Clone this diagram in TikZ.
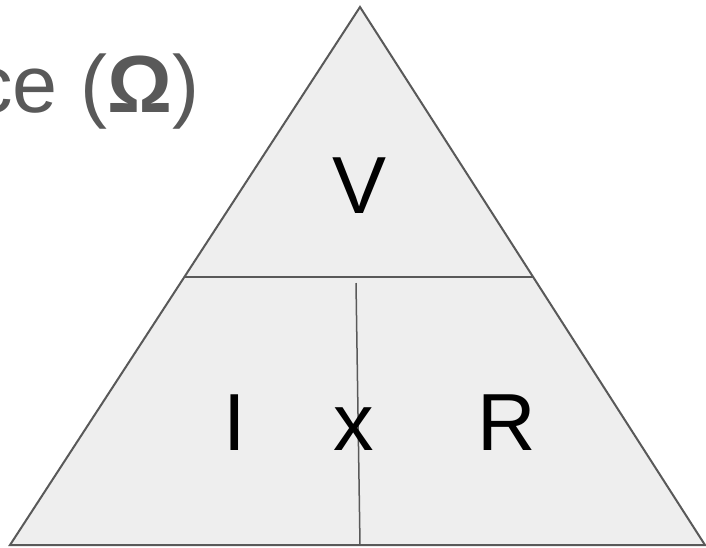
\documentclass[tikz,border=0pt]{standalone}
\usepackage{fontspec}
\setmainfont{Liberation Sans}
\usetikzlibrary{calc}
\definecolor{edgegray}{HTML}{595959}
\definecolor{fillgray}{HTML}{EEEEEE}
\tikzset{
  edge/.style={draw=edgegray, line width=2pt, line join=miter},
  letter/.style={inner sep=0pt, anchor=base, font=\fontsize{81}{90}\selectfont}
}
\begin{document}
\begin{tikzpicture}[x=1pt,y=-1pt]
  \useasboundingbox (0,0) rectangle (706,547);
  % triangle corners
  \coordinate (top)   at (360,7);
  \coordinate (left)  at (10,545);
  \coordinate (right) at (705,545);
  \coordinate (ml) at ($(top)!0.502!(left)$);
  \coordinate (mr) at ($(top)!0.502!(right)$);
  \coordinate (vt) at (356,283);
  \coordinate (vb) at (360,545);
  \fill[fillgray] (top) -- (left) -- (right) -- cycle;
  \draw[edge] (ml) -- (mr);
  \draw[edge, line width=1.5pt] (vt) -- (vb);
  \draw[edge] (top) -- (left) -- (right) -- cycle;
  % labels
  \node[letter] (V) at (360,213) {V};
  \node[letter] (I) at (235,450) {I};
  \node[letter] (x) at (354,450) {x};
  \node[letter] (R) at (507,450) {R};
  \node[letter, anchor=base west, text=edgegray] (unit) at (-28,112) {ce (\textbf{Ω})};
\end{tikzpicture}
\end{document}
